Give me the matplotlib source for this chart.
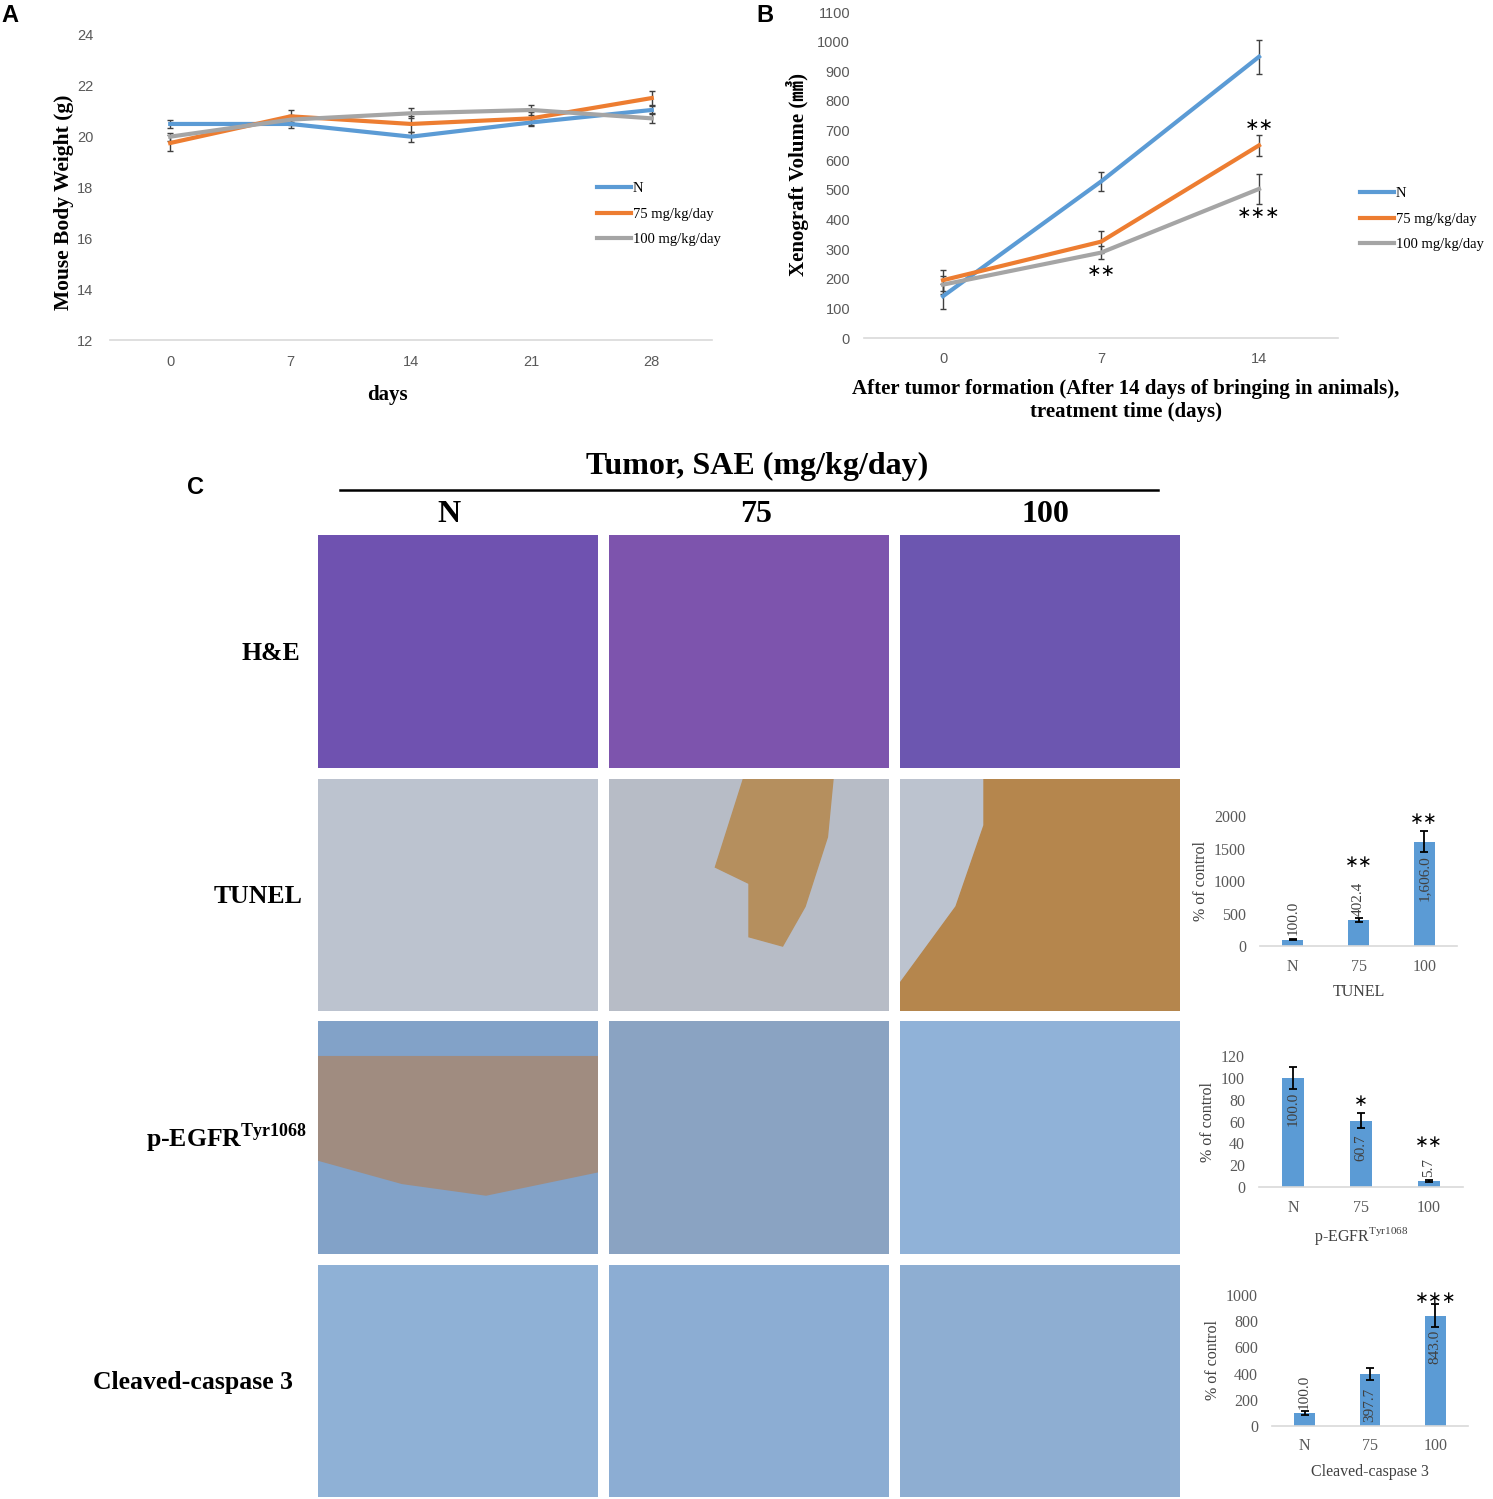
import matplotlib
matplotlib.use('Agg')
import matplotlib.pyplot as plt
from matplotlib.lines import Line2D
from matplotlib.patches import Polygon

W, H = 1493, 1499
SERIF = ['Liberation Serif', 'DejaVu Serif']
NARROW = ['Liberation Sans Narrow', 'Liberation Sans', 'DejaVu Sans']
STAR = ['DejaVu Sans']

groups = ['N', '75 mg/kg/day', '100 mg/kg/day']
colors = ['#5b9bd5', '#ed7d31', '#a5a5a5']

# panel A: body weight
days_a = ['0', '7', '14', '21', '28']
weight = [[20.5, 20.5, 20.0, 20.56, 21.05],
          [19.75, 20.8, 20.5, 20.72, 21.52],
          [20.0, 20.67, 20.92, 21.05, 20.72]]
weight_err = [[0.17, 0.17, 0.2, 0.15, 0.15],
              [0.3, 0.23, 0.3, 0.25, 0.26],
              [0.16, 0.2, 0.2, 0.2, 0.2]]

# panel B: xenograft volume
days_b = ['0', '7', '14']
volume = [[141, 528, 949],
          [195, 325, 650],
          [180, 288, 503]]
volume_err = [[42, 32, 57],
              [36, 37, 36],
              [30, 23, 50]]

# panel C: quantification
bar_cats = ['N', '75', '100']
tunel = [100.0, 402.4, 1606.0]
tunel_err = [15, 30, 160]
tunel_lbl = ['100.0', '402.4', '1,606.0']
tunel_sig = ['', '**', '**']
egfr = [100.0, 60.7, 5.7]
egfr_err = [10, 7, 1]
egfr_lbl = ['100.0', '60.7', '5.7']
egfr_sig = ['', '*', '**']
casp = [100.0, 397.7, 843.0]
casp_err = [15, 45, 88]
casp_lbl = ['100.0', '397.7', '843.0']
casp_sig = ['', '', '***']

col_heads = ['N', '75', '100']
row_heads = ['H&E', 'TUNEL', 'p-EGFR$^{\\mathregular{Tyr1068}}$', 'Cleaved-caspase 3']


def box(x0, y0, x1, y1):
    return [x0 / W, 1 - y1 / H, (x1 - x0) / W, (y1 - y0) / H]


def excel_axes(ax):
    for s in ['top', 'right', 'left']:
        ax.spines[s].set_visible(False)
    ax.spines['bottom'].set_color('#d9d9d9')
    ax.spines['bottom'].set_linewidth(1.2)
    ax.tick_params(length=0, colors='#595959')


def line_legend(ax, x, y):
    handles = [Line2D([], [], color=c, lw=3) for c in colors]
    ax.legend(handles, groups, loc='upper left', bbox_to_anchor=(x / W, 1 - y / H),
              bbox_transform=fig.transFigure, frameon=False,
              prop={'family': SERIF, 'size': 10.5}, handlelength=2.3,
              handletextpad=0.15, labelspacing=0.85, borderpad=0, borderaxespad=0)


def star(ax, txt, xy, dy, size=12.5):
    ax.annotate(txt.replace('*', '\u2217'), xy, xytext=(0, dy), textcoords='offset points',
                ha='center', va='center', family=STAR, fontsize=size, annotation_clip=False)


fig = plt.figure(figsize=(W / 100, H / 100), dpi=100)

# ---------------- A
axA = fig.add_axes(box(110, 35, 712, 340))
for vals, errs, c in zip(weight, weight_err, colors):
    axA.errorbar(range(len(days_a)), vals, yerr=errs, color=c, lw=3,
                 ecolor='#404040', elinewidth=1, capsize=2.5, capthick=1)
axA.set_xlim(-0.5, 4.5)
axA.set_ylim(12, 24)
axA.set_yticks(range(12, 25, 2))
axA.set_xticks(range(len(days_a)))
axA.set_xticklabels(days_a)
excel_axes(axA)
axA.tick_params(axis='y', pad=12)
axA.tick_params(axis='x', pad=11)
for t in axA.get_xticklabels() + axA.get_yticklabels():
    t.set_family(NARROW)
    t.set_fontsize(10.5)
axA.set_ylabel('Mouse Body Weight (g)', family=SERIF, fontsize=15.5, fontweight='bold')
axA.yaxis.set_label_coords(-0.059, 0.452)
axA.set_xlabel('days', family=SERIF, fontsize=15, fontweight='bold')
axA.xaxis.set_label_coords((387 - 110) / 602, -0.149)
line_legend(axA, 597, 182)

# ---------------- B
axB = fig.add_axes(box(864, 12, 1338, 338))
for vals, errs, c in zip(volume, volume_err, colors):
    axB.errorbar(range(len(days_b)), vals, yerr=errs, color=c, lw=3,
                 ecolor='#404040', elinewidth=1, capsize=2.5, capthick=1)
axB.set_xlim(-0.5, 2.5)
axB.set_ylim(0, 1100)
axB.set_yticks(range(0, 1101, 100))
axB.set_xticks(range(len(days_b)))
axB.set_xticklabels(days_b)
excel_axes(axB)
axB.tick_params(axis='y', pad=10)
axB.tick_params(axis='x', pad=10)
for t in axB.get_xticklabels() + axB.get_yticklabels():
    t.set_family(NARROW)
    t.set_fontsize(10.5)
axB.set_ylabel('Xenograft Volume (\u33a3)', family=SERIF + ['Noto Sans CJK SC'], fontsize=15,
               fontweight='bold')
axB.yaxis.set_label_coords(-0.117, 0.5)
axB.set_xlabel('After tumor formation (After 14 days of bringing in animals),\ntreatment time (days)',
               family=SERIF, fontsize=15, fontweight='bold', linespacing=1.2)
axB.xaxis.set_label_coords((1126 - 864) / 474, -0.125)
line_legend(axB, 1360, 187)
star(axB, '**', (2, volume[1][2] + volume_err[1][2]), 7)
star(axB, '***', (2, volume[2][2] - volume_err[2][2]), -7)
star(axB, '**', (1, volume[2][1] - volume_err[2][1]), -8)

# panel letters
for txt, x, y in [('A', 10, 15), ('B', 765, 15), ('C', 195, 487)]:
    fig.text(x / W, 1 - y / H, txt, fontsize=17, fontweight='bold', family=['Liberation Sans', 'DejaVu Sans'],
             ha='center', va='center')

# ---------------- C header
fig.text(757 / W, 1 - 466 / H, 'Tumor, SAE (mg/kg/day)', family=SERIF, fontsize=23, fontweight='bold',
         ha='center', va='center')
fig.add_artist(Line2D([340 / W, 1158 / W], [1 - 490 / H, 1 - 490 / H], color='black', lw=1.8,
                      transform=fig.transFigure))
col_x = [449, 756, 1045]
for h, x in zip(col_heads, col_x):
    fig.text(x / W, 1 - 514 / H, h, family=SERIF, fontsize=23, fontweight='bold', ha='center', va='center')

row_y = [653, 896, 1138, 1383]
row_right = [300, 302, 307, 293]
for h, y, xr in zip(row_heads, row_y, row_right):
    fig.text(xr / W, 1 - y / H, h, family=SERIF, fontsize=18.5, fontweight='bold', ha='right', va='center')

# micrograph panels (flat tints)
img_x = [(318, 598), (609, 889), (900, 1180)]
img_y = [(535, 768), (779, 1011), (1021, 1254), (1265, 1497)]
tints = [['#6f52b0', '#7d54ad', '#6c56b0'],
         ['#bcc3cf', '#b7bcc6', '#bcc3cf'],
         ['#82a2c8', '#8aa3c2', '#90b2d8'],
         ['#8fb1d6', '#8cadd3', '#8eaed2']]
for r, (y0, y1) in enumerate(img_y):
    for c, (x0, x1) in enumerate(img_x):
        ax = fig.add_axes(box(x0, y0, x1, y1))
        ax.set_facecolor(tints[r][c])
        ax.set_xticks([])
        ax.set_yticks([])
        for s in ax.spines.values():
            s.set_visible(False)
        ax.set_xlim(0, 1)
        ax.set_ylim(0, 1)
        if r == 1 and c == 2:
            ax.add_patch(Polygon([(0.3, 1), (1, 1), (1, 0), (0.0, 0), (0.0, 0.12), (0.2, 0.45), (0.3, 0.8)],
                                 color='#b5864d'))
        if r == 1 and c == 1:
            ax.add_patch(Polygon([(0.48, 1), (0.8, 1), (0.78, 0.75), (0.7, 0.45), (0.62, 0.28),
                                  (0.5, 0.32), (0.5, 0.55), (0.38, 0.62)], color='#b58f5e'))
        if r == 2 and c == 0:
            ax.add_patch(Polygon([(0, 0.85), (1, 0.85), (1, 0.35), (0.6, 0.25), (0.3, 0.3), (0, 0.4)],
                                 facecolor='#a08c80', lw=0))

# ---------------- bar charts
bar_panels = [
    (box(1260, 816, 1457, 946), tunel, tunel_err, tunel_lbl, tunel_sig, (0, 2000, 500), 'TUNEL',
     ['out', 'out', 'in'], [0, 38, 7]),
    (box(1259, 1056, 1463, 1187), egfr, egfr_err, egfr_lbl, egfr_sig, (0, 120, 20),
     'p-EGFR$^{\\mathregular{Tyr1068}}$', ['in', 'in', 'out'], [0, 7, 25]),
    (box(1272, 1295, 1468, 1426), casp, casp_err, casp_lbl, casp_sig, (0, 1000, 200), 'Cleaved-caspase 3',
     ['out', 'in', 'in'], [0, 0, 2]),
]
for rect, vals, errs, lbls, sigs, (lo, hi, st), xl, modes, star_off in bar_panels:
    ax = fig.add_axes(rect)
    xs = range(len(bar_cats))
    ax.bar(xs, vals, width=0.32, color='#5b9bd5', yerr=errs, capsize=3,
           error_kw={'elinewidth': 1.3, 'capthick': 1.3, 'ecolor': 'black'})
    ax.set_xlim(-0.5, 2.5)
    ax.set_ylim(lo, hi)
    ax.set_yticks(range(lo, hi + 1, st))
    ax.set_xticks(list(xs))
    ax.set_xticklabels(bar_cats)
    excel_axes(ax)
    ax.tick_params(axis='y', pad=10)
    ax.tick_params(axis='x', pad=9)
    for t in ax.get_xticklabels() + ax.get_yticklabels():
        t.set_family(SERIF)
        t.set_fontsize(11.5)
    ax.set_ylabel('% of control', family=SERIF, fontsize=11.5, color='#404040', labelpad=4)
    ax.set_xlabel(xl, family=SERIF, fontsize=11.5, color='#404040', labelpad=7)
    for i, (v, e, lb, sg, m, so) in enumerate(zip(vals, errs, lbls, sigs, modes, star_off)):
        if m == 'out':
            ax.annotate(lb, (i, v), xytext=(0, 3), textcoords='offset points', rotation=90,
                        ha='center', va='bottom', family=SERIF, fontsize=11, color='#404040')
        else:
            ax.annotate(lb, (i, v), xytext=(0, -10), textcoords='offset points', rotation=90,
                        ha='center', va='top', family=SERIF, fontsize=11, color='#404040')
        if sg:
            star(ax, sg, (i, v + e), 2 + so, size=12)

fig.savefig('out.png', dpi=100)
